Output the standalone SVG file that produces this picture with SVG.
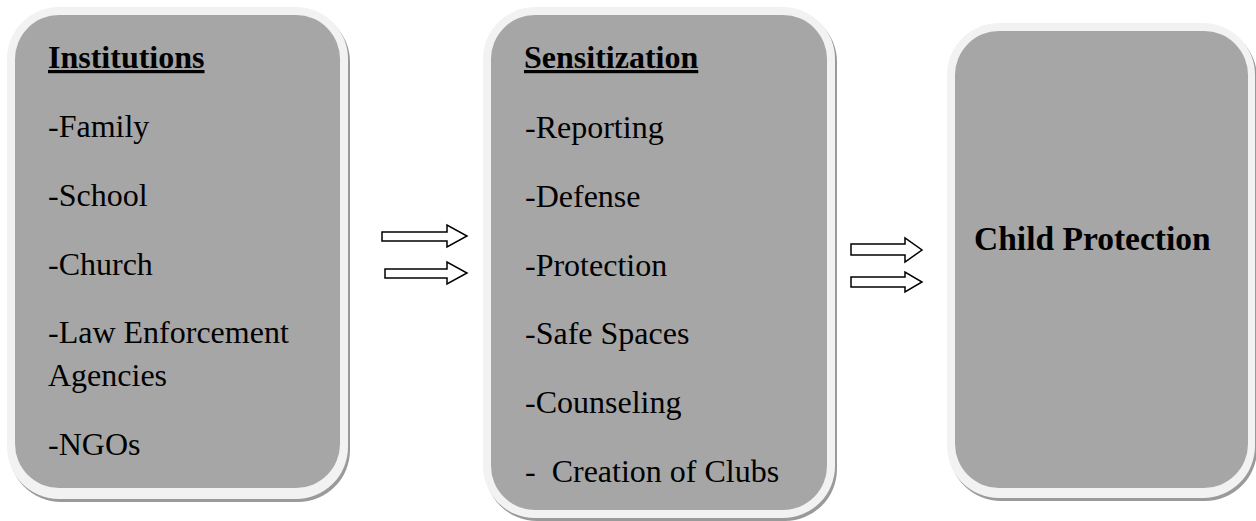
<svg xmlns="http://www.w3.org/2000/svg" width="1256" height="521" viewBox="0 0 1256 521">
<style>
.shadow{fill:#9a9a9a}
.rim{fill:#f2f2f2}
.body{fill:#a6a6a6}
.t{font-family:"Liberation Serif","Times New Roman",serif;font-size:32px;fill:#000}
.h{font-weight:bold;text-decoration:underline}
.b{font-weight:bold;font-size:33.5px}
.arrow{fill:#fff;stroke:#000;stroke-width:1.5;stroke-linejoin:miter}
</style>
<rect width="1256" height="521" fill="#fff"/>
<g id="node-institutions">
<rect class="shadow" x="9" y="10" width="341" height="492" rx="52"/>
<rect class="rim" x="7" y="7" width="341" height="492" rx="52"/>
<rect class="body" x="15" y="15" width="325" height="473" rx="44"/>
<text class="t h" x="48" y="68">Institutions</text>
<text class="t" x="48" y="137">-Family</text>
<text class="t" x="48" y="206">-School</text>
<text class="t" x="48" y="275">-Church</text>
<text class="t" x="48" y="343">-Law Enforcement</text>
<text class="t" x="48" y="386">Agencies</text>
<text class="t" x="48" y="455">-NGOs</text>
</g>
<g id="node-sensitization">
<rect class="shadow" x="485" y="10" width="352" height="511" rx="52"/>
<rect class="rim" x="483" y="7" width="352" height="511" rx="52"/>
<rect class="body" x="491" y="15" width="336" height="495" rx="44"/>
<text class="t h" x="524" y="68">Sensitization</text>
<text class="t" x="525" y="138">-Reporting</text>
<text class="t" x="525" y="207">-Defense</text>
<text class="t" x="525" y="276">-Protection</text>
<text class="t" x="525" y="344">-Safe Spaces</text>
<text class="t" x="525" y="413">-Counseling</text>
<text class="t" x="525" y="482" xml:space="preserve">-  Creation of Clubs</text>
</g>
<g id="node-child-protection">
<rect class="shadow" x="949" y="26" width="308" height="475" rx="52"/>
<rect class="rim" x="947" y="23" width="308" height="475" rx="52"/>
<rect class="body" x="955" y="31" width="293" height="457" rx="44"/>
<text class="t b" x="974" y="250">Child Protection</text>
</g>
<g id="connectors">
<polygon class="arrow" points="382,232 447,232 447,225 467,236 447,247 447,241 382,241"/>
<polygon class="arrow" points="385,269 447,269 447,262 467,273 447,284 447,278 385,278"/>
<polygon class="arrow" points="851,244 905,244 905,238 922,250 905,262 905,255 851,255"/>
<polygon class="arrow" points="851,277 905,277 905,272 922,282 905,292 905,287 851,287"/>
</g>
</svg>
